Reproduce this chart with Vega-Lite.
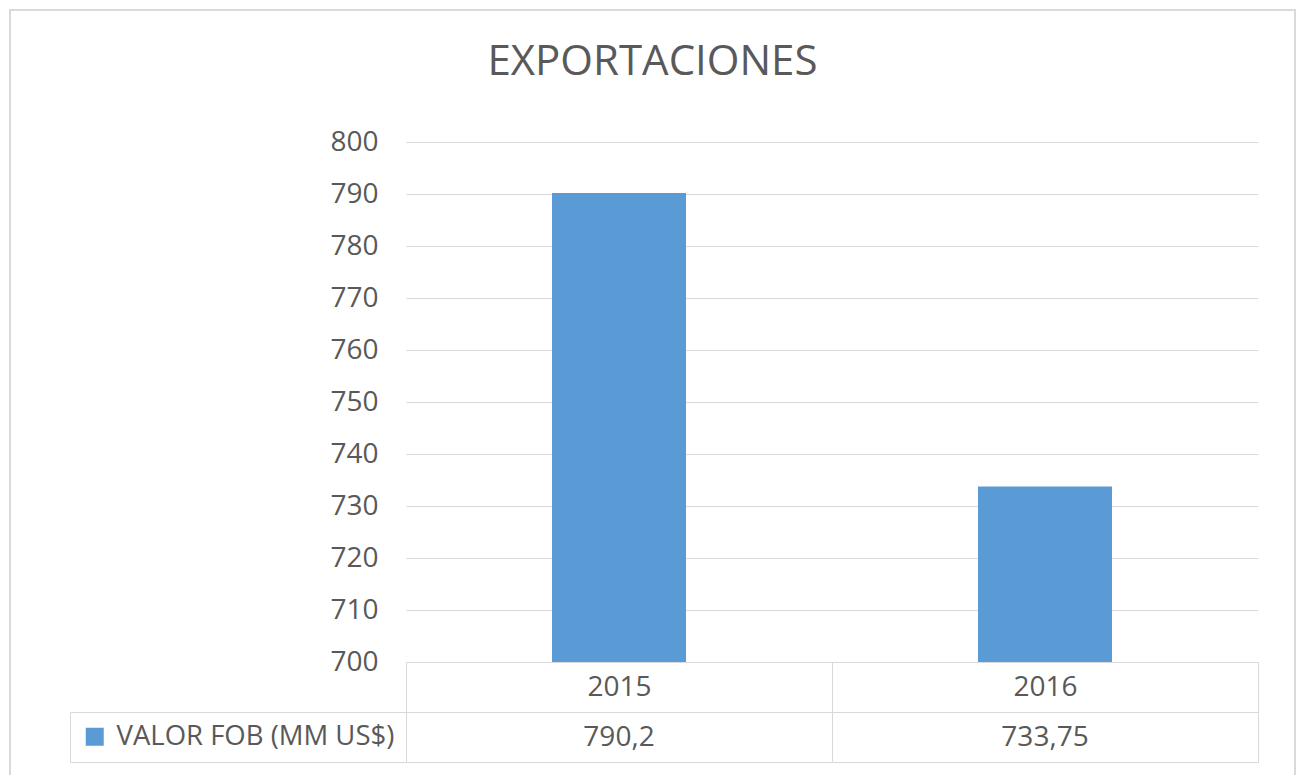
{
  "$schema": "https://vega.github.io/schema/vega-lite/v6.json",
  "width": 1285,
  "height": 770,
  "autosize": {"type": "none"},
  "padding": {"left": 10, "top": 10, "right": 5, "bottom": 0},
  "background": "white",
  "title": {
    "text": "EXPORTACIONES",
    "anchor": "middle",
    "frame": "group",
    "orient": "top",
    "offset": -107,
    "baseline": "alphabetic",
    "font": "Open Sans",
    "fontSize": 42,
    "fontWeight": "normal",
    "color": "#595959"
  },
  "data": {
    "values": [
      {"anio": "2015", "valor": 790.2, "serie": "VALOR FOB (MM US$)"},
      {"anio": "2016", "valor": 733.75, "serie": "VALOR FOB (MM US$)"}
    ]
  },
  "layer": [
    {
      "mark": {"type": "bar", "width": {"band": 0.3146}},
      "encoding": {
        "x": {
          "field": "anio",
          "type": "nominal",
          "scale": {"type": "band", "range": [396, 1248], "paddingInner": 0, "paddingOuter": 0},
          "axis": {
            "orient": "bottom",
            "offset": -18,
            "title": null,
            "grid": false,
            "tickBand": "extent",
            "tickSize": -100,
            "tickColor": "#d9d9d9",
            "tickWidth": 1,
            "domainColor": "#d9d9d9",
            "domainWidth": 1,
            "labelAngle": 0,
            "labelBaseline": "middle",
            "labelPadding": 25,
            "labelFont": "Open Sans",
            "labelFontSize": 28,
            "labelColor": "#595959"
          }
        },
        "y": {
          "field": "valor",
          "type": "quantitative",
          "scale": {"domain": [700, 800], "range": [652, 132], "zero": false, "nice": false},
          "axis": {
            "orient": "left",
            "offset": -396,
            "title": null,
            "tickCount": 10,
            "domain": false,
            "ticks": false,
            "grid": true,
            "gridColor": "#d9d9d9",
            "gridWidth": 1,
            "labelPadding": 28,
            "labelFont": "Open Sans",
            "labelFontSize": 28,
            "labelColor": "#595959"
          }
        },
        "y2": {"datum": 700},
        "color": {
          "field": "serie",
          "type": "nominal",
          "scale": {"range": ["#5b9bd5"]},
          "legend": {
            "orient": "none",
            "legendX": 60,
            "legendY": 702,
            "title": null,
            "symbolType": "square",
            "symbolSize": 324,
            "symbolStrokeWidth": 0,
            "symbolOpacity": 1,
            "labelOffset": 8,
            "labelFont": "Open Sans",
            "labelFontSize": 27.5,
            "labelColor": "#595959",
            "labelLimit": 400,
            "padding": 11,
            "strokeColor": "#d9d9d9"
          }
        }
      }
    },
    {
      "mark": {"type": "bar", "opacity": 0},
      "encoding": {
        "x": {
          "field": "valor",
          "type": "ordinal",
          "sort": "descending",
          "scale": {"type": "band", "range": [396, 1248], "paddingInner": 0, "paddingOuter": 0},
          "axis": {
            "orient": "bottom",
            "offset": -68,
            "title": null,
            "grid": false,
            "ticks": false,
            "domainColor": "#d9d9d9",
            "domainWidth": 1,
            "labelAngle": 0,
            "labelBaseline": "middle",
            "labelPadding": 25,
            "labelExpr": "replace(datum.label, '.', ',')",
            "labelFont": "Open Sans",
            "labelFontSize": 28,
            "labelColor": "#595959"
          }
        },
        "y": {"field": "valor", "type": "quantitative"},
        "y2": {"datum": 700}
      }
    }
  ],
  "resolve": {"scale": {"x": "independent"}, "axis": {"x": "independent"}},
  "config": {
    "view": {"stroke": "#d9d9d9", "strokeWidth": 2}
  }
}
